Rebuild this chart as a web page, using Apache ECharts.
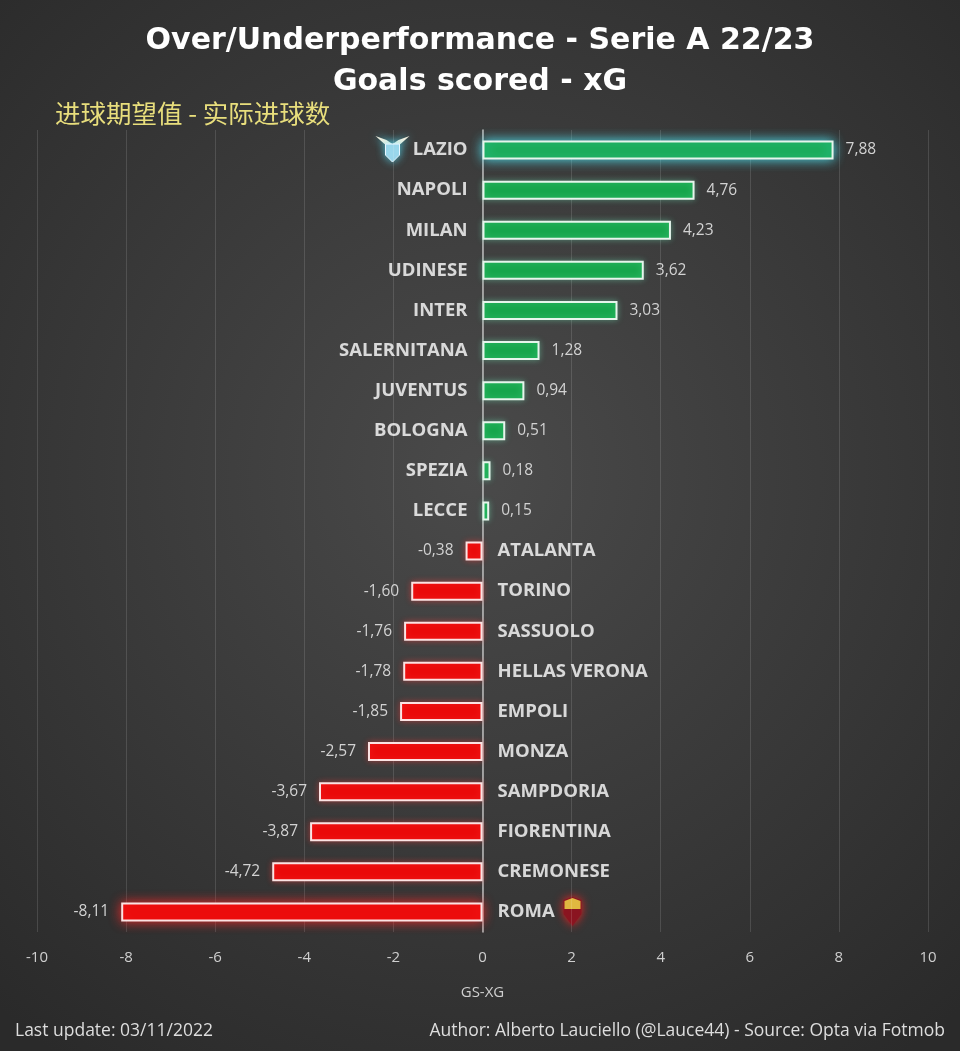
<!DOCTYPE html>
<html><head><meta charset="utf-8">
<script src="https://cdn.jsdelivr.net/npm/echarts@6/dist/echarts.min.js"></script>
<style>html,body{margin:0;padding:0;background:#333;}#c{width:960px;height:1051px;}</style>
</head><body><div id="c"></div>
<script>
const teams = ['LAZIO','NAPOLI','MILAN','UDINESE','INTER','SALERNITANA','JUVENTUS','BOLOGNA','SPEZIA','LECCE','ATALANTA','TORINO','SASSUOLO','HELLAS VERONA','EMPOLI','MONZA','SAMPDORIA','FIORENTINA','CREMONESE','ROMA'];
const diffs = [7.88,4.76,4.23,3.62,3.03,1.28,0.94,0.51,0.18,0.15,-0.38,-1.60,-1.76,-1.78,-1.85,-2.57,-3.67,-3.87,-4.72,-8.11];
const xTicks = [-10,-8,-6,-4,-2,0,2,4,6,8,10];

const fmt = v => v.toFixed(2).replace('.', ',');
const GREEN = '#17a64c', RED = '#ea0a0a';

const barData = diffs.map((v, i) => {
  const pos = v >= 0;
  const item = {
    value: v,
    itemStyle: {
      color: pos ? GREEN : RED,
      borderColor: pos ? '#e6f5ec' : '#fbe3e3',
      borderWidth: 2,
      shadowBlur: 6,
      shadowColor: pos ? 'rgba(120,255,200,0.35)' : 'rgba(255,60,60,0.45)'
    },
    label: { position: pos ? 'right' : 'left' }
  };
  if (i === 0) { item.itemStyle.shadowBlur = 12; item.itemStyle.shadowColor = 'rgba(80,240,255,0.9)'; }
  if (v === Math.min(...diffs)) { item.itemStyle.shadowBlur = 12; item.itemStyle.shadowColor = 'rgba(255,40,40,0.9)'; }
  return item;
});

const nameData = teams.map((t, i) => ({
  value: [0, t],
  label: { position: diffs[i] >= 0 ? 'left' : 'right', formatter: t }
}));

const chart = echarts.init(document.getElementById('c'));
chart.setOption({
  backgroundColor: {
    type: 'radial', x: 0.5, y: 0.45, r: 0.75,
    colorStops: [{offset: 0, color: '#4a4a4a'}, {offset: 1, color: '#2a2a2a'}]
  },
  animation: false,
  title: {
    text: 'Over/Underperformance - Serie A 22/23\nGoals scored - xG',
    left: 'center', top: 16,
    textStyle: { color: '#ffffff', fontFamily: 'DejaVu Sans', fontWeight: 'bold', fontSize: 30, lineHeight: 41 }
  },
  graphic: [
    { type: 'text', left: 55, top: 101, style: { text: '进球期望值 - 实际进球数', fill: '#e8de7c', font: '25.5px "Noto Sans CJK SC"' } },
    { type: 'text', left: 15, top: 1022, style: { text: 'Last update: 03/11/2022', fill: '#dddddd', font: '17.5px "Open Sans"' } },
    { type: 'text', right: 15, top: 1022, style: { text: 'Author: Alberto Lauciello (@Lauce44) - Source: Opta via Fotmob', fill: '#dddddd', font: '17.5px "Open Sans"' } }
  ],
  grid: { left: 37, right: 32, top: 130, bottom: 119 },
  xAxis: {
    type: 'value', min: -10, max: 10, interval: 2,
    axisLabel: { color: '#cfcfcf', fontSize: 15, fontFamily: 'Open Sans', margin: 18,
      formatter: v => xTicks.includes(v) ? String(v) : '' },
    axisLine: { show: false }, axisTick: { show: false },
    splitLine: { show: true, lineStyle: { color: 'rgba(255,255,255,0.13)', width: 1 } },
    name: 'GS-XG', nameLocation: 'middle', nameGap: 53,
    nameTextStyle: { color: '#cfcfcf', fontSize: 15, fontFamily: 'Open Sans' }
  },
  yAxis: {
    type: 'category', data: teams, inverse: true,
    axisLabel: { show: false }, axisTick: { show: false },
    axisLine: { show: true, onZero: true, lineStyle: { color: '#bdbdbd', width: 1.5 } },
    splitLine: { show: false }
  },
  series: [
    {
      type: 'bar', data: barData, barWidth: 19,
      label: { show: true, distance: 12, color: '#d2d2d2', fontSize: 15.5, fontFamily: 'Open Sans',
        formatter: p => fmt(p.value) }
    },
    {
      type: 'scatter', data: nameData, symbolSize: 0, z: 5,
      label: { show: true, distance: 15, color: '#ffffff', fontSize: 18.5, fontWeight: 'bold', fontFamily: 'Open Sans' }
    }
  ]
});

// Decorative club crests next to the first and last team names
const pTop = chart.convertToPixel({ gridIndex: 0 }, [0, teams[0]]);
const pBot = chart.convertToPixel({ gridIndex: 0 }, [0, teams[teams.length - 1]]);
chart.setOption({
  graphic: [
    { type: 'text', left: 55, top: 101, style: { text: '进球期望值 - 实际进球数', fill: '#e8de7c', font: '25.5px "Noto Sans CJK SC"' } },
    { type: 'text', left: 15, top: 1022, style: { text: 'Last update: 03/11/2022', fill: '#dddddd', font: '17.5px "Open Sans"' } },
    { type: 'text', right: 15, top: 1022, style: { text: 'Author: Alberto Lauciello (@Lauce44) - Source: Opta via Fotmob', fill: '#dddddd', font: '17.5px "Open Sans"' } },
    { type: 'group', x: pTop[0] - 90, y: pTop[1], children: [
      { type: 'polygon', shape: { points: [[-17,-14],[-6,-10],[0,-6],[6,-10],[17,-14],[8,-6],[0,-3],[-8,-6]] },
        style: { fill: '#f2f0e0', shadowBlur: 8, shadowColor: 'rgba(90,230,255,0.8)' } },
      { type: 'polygon', shape: { points: [[-7,-6],[7,-6],[7,5],[0,12],[-7,5]] },
        style: { fill: '#9fd6ea', stroke: '#e8f6ff', lineWidth: 1, shadowBlur: 8, shadowColor: 'rgba(90,230,255,0.8)' } }
    ]},
    { type: 'group', x: pBot[0] + 90, y: pBot[1], children: [
      { type: 'polygon', shape: { points: [[-9,-12],[0,-15],[9,-12],[9,2],[0,14],[-9,2]] },
        style: { fill: '#8a1420', shadowBlur: 10, shadowColor: 'rgba(255,30,30,0.9)' } },
      { type: 'polygon', shape: { points: [[-8,-11],[0,-14],[8,-11],[8,-3],[-8,-3]] },
        style: { fill: '#e0b840' } }
    ]}
  ]
});
</script></body></html>
